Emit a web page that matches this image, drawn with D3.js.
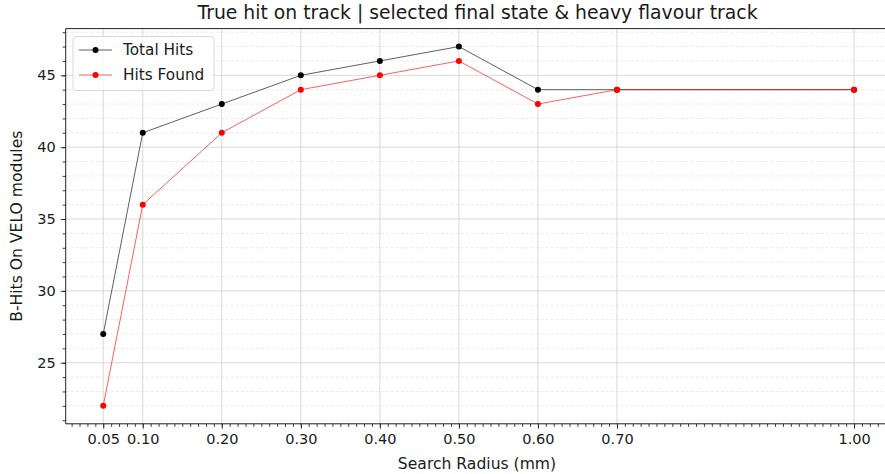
<!DOCTYPE html>
<html><head><meta charset="utf-8">
<script src="https://cdn.jsdelivr.net/npm/d3@7"></script>
<style>body{margin:0;background:#fff;} text{font-family:"DejaVu Sans",sans-serif;fill:#1a1a1a;}</style>
</head><body><svg id="c" width="885" height="474"></svg>
<script>
const radius = [0.05, 0.10, 0.20, 0.30, 0.40, 0.50, 0.60, 0.70, 1.00];
const totalHits = [27, 41, 43, 45, 46, 47, 44, 44, 44];
const hitsFound = [22, 36, 41, 44, 45, 46, 43, 44, 44];
const xTickLabels = ["0.05","0.10","0.20","0.30","0.40","0.50","0.60","0.70","1.00"];
const yTicks = [25, 30, 35, 40, 45];
const seriesNames = ["Total Hits", "Hits Found"];
const seriesColors = ["#000000", "#ff0000"];

const svg = d3.select("#c");
const L = 65.7, R = 891.6, T = 28.6, B = 423.8;
const x = d3.scaleLinear().domain([0.0025, 1.0475]).range([L, R]);
const y = d3.scaleLinear().domain([20.75, 48.25]).range([B, T]);

const g = svg.append("g");
// minor y grid
d3.range(21, 49).filter(v => v % 5 !== 0).forEach(v => {
  g.append("line").attr("x1", L).attr("x2", R).attr("y1", y(v)).attr("y2", y(v))
   .attr("stroke", "#e4e4e4").attr("stroke-width", 0.8).attr("stroke-dasharray", "3,2");
});
// major grid
yTicks.forEach(v => g.append("line").attr("x1", L).attr("x2", R).attr("y1", y(v)).attr("y2", y(v))
  .attr("stroke", "#cfcfcf").attr("stroke-width", 0.8));
radius.forEach(v => g.append("line").attr("x1", x(v)).attr("x2", x(v)).attr("y1", T).attr("y2", B)
  .attr("stroke", "#cfcfcf").attr("stroke-width", 0.8));

// axes
const xAxis = d3.axisBottom(x).tickValues(radius).tickFormat((d,i) => xTickLabels[i]).tickSize(5).tickPadding(5);
const xMinor = d3.axisBottom(x).tickValues(d3.range(1, 105).map(i => i / 100)).tickFormat("").tickSize(3);
const yAxis = d3.axisLeft(y).tickValues(yTicks).tickSize(5).tickPadding(5);
const yMinor = d3.axisLeft(y).tickValues(d3.range(21, 49)).tickFormat("").tickSize(3);
[xMinor, xAxis].forEach(a => {
  const ga = svg.append("g").attr("transform", `translate(0,${B})`).call(a);
  ga.select(".domain").remove();
  ga.selectAll("line").attr("stroke", "#222").attr("stroke-width", 0.9);
  ga.selectAll("text").style("font-size", "14.5px").attr("fill", "#1a1a1a");
});
[yMinor, yAxis].forEach(a => {
  const ga = svg.append("g").attr("transform", `translate(${L},0)`).call(a);
  ga.select(".domain").remove();
  ga.selectAll("line").attr("stroke", "#222").attr("stroke-width", 0.9);
  ga.selectAll("text").style("font-size", "14.5px").attr("fill", "#1a1a1a");
});
// spines
svg.append("line").attr("x1", L).attr("x2", L).attr("y1", T).attr("y2", B).attr("stroke", "#222").attr("stroke-width", 1);
svg.append("line").attr("x1", L).attr("x2", R).attr("y1", B).attr("y2", B).attr("stroke", "#222").attr("stroke-width", 1);
svg.append("line").attr("x1", L).attr("x2", R).attr("y1", T).attr("y2", T).attr("stroke", "#222").attr("stroke-width", 1);

// series
const line = d3.line().x((d, i) => x(radius[i])).y(d => y(d));
[totalHits, hitsFound].forEach((s, k) => {
  svg.append("path").datum(s).attr("d", line).attr("fill", "none")
    .attr("stroke", seriesColors[k]).attr("stroke-opacity", 0.7).attr("stroke-width", 0.9);
  svg.selectAll(null).data(s).enter().append("circle")
    .attr("cx", (d, i) => x(radius[i])).attr("cy", d => y(d)).attr("r", 3).attr("fill", seriesColors[k]);
});

// legend
const lg = svg.append("g");
lg.append("rect").attr("x", 73).attr("y", 36.5).attr("width", 141).attr("height", 54).attr("rx", 3)
  .attr("fill", "#fff").attr("fill-opacity", 0.8).attr("stroke", "#d5d5d5").attr("stroke-width", 0.9);
seriesNames.forEach((n, k) => {
  const yy = 50 + k * 25;
  lg.append("line").attr("x1", 79).attr("x2", 112).attr("y1", yy).attr("y2", yy)
    .attr("stroke", seriesColors[k]).attr("stroke-opacity", 0.7).attr("stroke-width", 0.9);
  lg.append("circle").attr("cx", 95.5).attr("cy", yy).attr("r", 3).attr("fill", seriesColors[k]);
  lg.append("text").attr("x", 123).attr("y", yy).attr("dy", "0.35em").style("font-size", "15.3px").text(n);
});

// labels
svg.append("text").attr("x", 477.5).attr("y", 18.5).attr("text-anchor", "middle").style("font-size", "18.8px")
  .text("True hit on track | selected final state & heavy flavour track");
svg.append("text").attr("x", 477).attr("y", 468.5).attr("text-anchor", "middle").style("font-size", "15.6px")
  .text("Search Radius (mm)");
svg.append("text").attr("transform", `translate(22,${(T + B) / 2}) rotate(-90)`).attr("text-anchor", "middle")
  .style("font-size", "15.6px").text("B-Hits On VELO modules");
</script></body></html>
